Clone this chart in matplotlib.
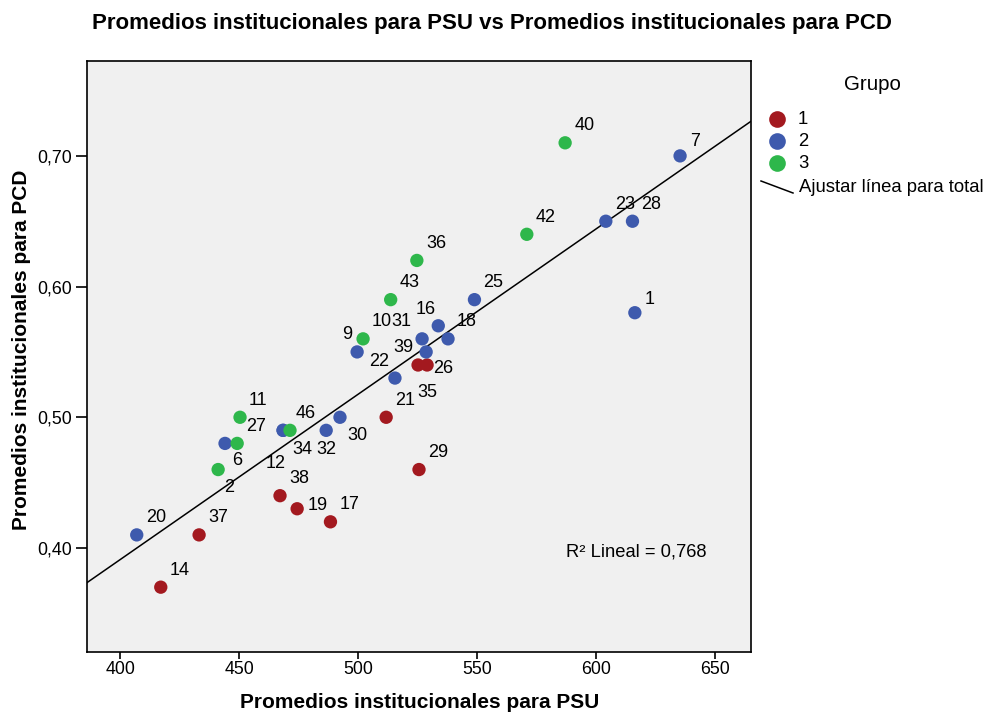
import numpy as np
import matplotlib
matplotlib.use("Agg")
import matplotlib.pyplot as plt
from matplotlib.lines import Line2D
from matplotlib.ticker import FuncFormatter

plt.rcParams['font.family'] = ['Liberation Sans', 'DejaVu Sans']

# institution id, PSU average, PCD average, group
ids = [7, 23, 28, 1, 25, 16, 31, 18, 39, 9, 22, 30, 32, 34, 12, 6, 20,
       26, 35, 21, 29, 38, 19, 17, 37, 14,
       40, 42, 36, 43, 10, 11, 27, 46, 2]
psu = [635.3, 604.1, 615.3, 616.3, 548.9, 533.7, 526.9, 537.8, 528.6, 499.6, 515.5, 492.4, 486.6, 468.5, 468.5, 444.1, 407.0,
       529.0, 525.2, 511.8, 525.6, 467.2, 474.4, 488.4, 433.2, 417.1,
       587.0, 570.9, 524.7, 513.7, 502.1, 450.4, 449.2, 471.4, 441.2]
pcd = [0.70, 0.65, 0.65, 0.58, 0.59, 0.57, 0.56, 0.56, 0.55, 0.55, 0.53, 0.50, 0.49, 0.49, 0.49, 0.48, 0.41,
       0.54, 0.54, 0.50, 0.46, 0.44, 0.43, 0.42, 0.41, 0.37,
       0.71, 0.64, 0.62, 0.59, 0.56, 0.50, 0.48, 0.49, 0.46]
grupo = [2] * 17 + [1] * 9 + [3] * 9

colors = {1: '#a3191f', 2: '#3e5aad', 3: '#2eb74b'}

# label offsets in pixels (right, up); most labels sit up and to the right
default_off = (9, 17)
label_off = {7: (10, 14), 1: (10, 13), 16: (-23, 16), 31: (-31, 17), 9: (-15, 17),
             22: (-26, 17), 39: (-33, 4), 26: (6, -4), 35: (-1, -28), 30: (7, -18),
             34: (9, -19), 32: (-10, -19), 6: (7, -17), 12: (-17, -33), 2: (6, -18),
             19: (10, 3), 46: (6, 17)}

psu = np.array(psu)
pcd = np.array(pcd)

fig = plt.figure(figsize=(9.87, 7.13), dpi=100)
ax = fig.add_axes([87 / 987, 1 - 652 / 713, 664 / 987, 591 / 713])
ax.set_facecolor('#f0f0f0')

for g in [1, 2, 3]:
    m = np.array(grupo) == g
    ax.scatter(psu[m], pcd[m], s=92, color=colors[g], edgecolors='none', zorder=3)

for i, lab in enumerate(ids):
    dx, dy = label_off.get(lab, default_off)
    ax.annotate(str(lab), (psu[i], pcd[i]), xytext=(dx, dy), textcoords='offset pixels',
                ha='left', va='center', fontsize=13, zorder=4)

# total fit line
xlim = (386.1, 665.1)
b, a = np.polyfit(psu, pcd, 1)
xx = np.array(xlim)
ax.plot(xx, a + b * xx, color='black', lw=1.1, zorder=2)

ax.set_xlim(*xlim)
ax.set_ylim(0.3204, 0.7726)
ax.set_xticks([400, 450, 500, 550, 600, 650])
ax.set_yticks([0.40, 0.50, 0.60, 0.70])
ax.yaxis.set_major_formatter(FuncFormatter(lambda v, p: f"{v:.2f}".replace('.', ',')))
ax.tick_params(direction='out', width=1.2, labelsize=12.8)
ax.tick_params(axis='y', length=8, pad=3)
ax.tick_params(axis='x', length=5, pad=1.5)
for s in ax.spines.values():
    s.set_linewidth(1.2)

ax.text((566 - 87) / 664, (652 - 552) / 591, 'R² Lineal = 0,768', transform=ax.transAxes,
        ha='left', va='center', fontsize=13.2)


def fx(px):
    return px / 987


def fy(py):
    return 1 - py / 713


fig.text(fx(420), fy(702), 'Promedios institucionales para PSU', ha='center', va='center',
         fontsize=15, fontweight='bold')
fig.text(fx(22), fy(350), 'Promedios institucionales para PCD', ha='center', va='center',
         rotation=90, fontsize=15, fontweight='bold')
fig.text(fx(492), fy(24), 'Promedios institucionales para PSU vs Promedios institucionales para PCD',
         ha='center', va='center', fontsize=16, fontweight='bold')

# legend
fig.text(fx(872), fy(85), 'Grupo', ha='center', va='center', fontsize=14.8)
for g, py in zip([1, 2, 3], [119, 141, 163]):
    fig.add_artist(Line2D([fx(777)], [fy(py)], marker='o', markersize=12, color=colors[g],
                          markeredgecolor='none', linestyle='none'))
    fig.text(fx(798), fy(py + 1), str(g), ha='left', va='center', fontsize=13.3)
fig.add_artist(Line2D([fx(761), fx(793)], [fy(181), fy(193)], color='black', lw=1.1))
fig.text(fx(799), fy(188), 'Ajustar línea para total', ha='left', va='center', fontsize=13.3)

fig.savefig('out.png', dpi=100)
